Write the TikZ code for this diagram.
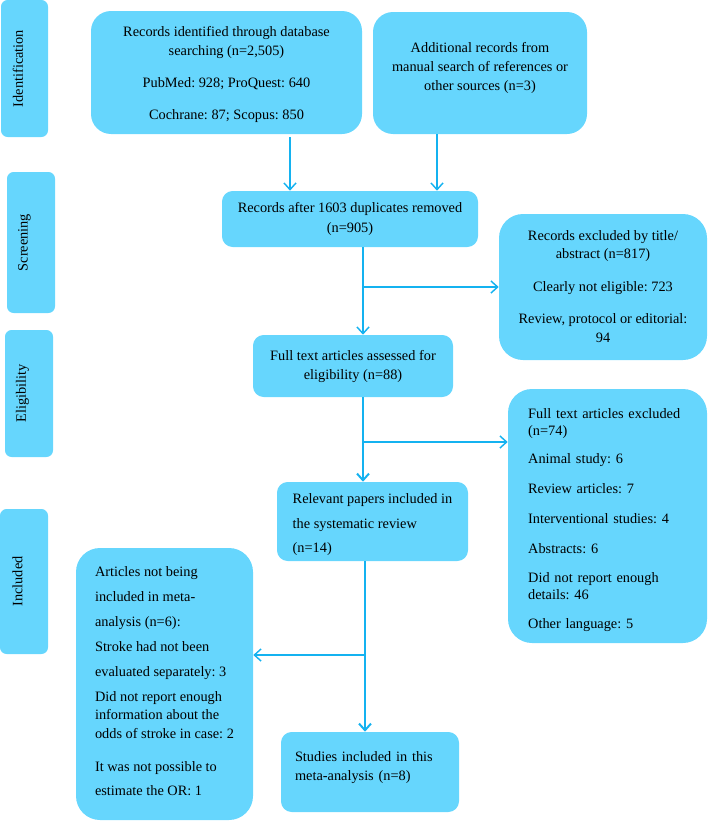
\documentclass[tikz,border=0pt]{standalone}
\usepackage{fontspec}
\setmainfont{Liberation Serif}
\frenchspacing
\usetikzlibrary{arrows.meta}
\definecolor{boxfill}{RGB}{102,214,253}
\definecolor{arrcol}{RGB}{20,178,240}
\begin{document}
\begin{tikzpicture}[x=0.75pt,y=-0.75pt,
  every node/.style={font=\fontsize{10.75}{14.25}\selectfont\frenchspacing, inner sep=0pt},
  box/.style={fill=boxfill, rounded corners=15pt, align=center},
  sbox/.style={fill=boxfill, rounded corners=8pt, align=center},
  lbox/.style={fill=boxfill, rounded corners=18pt, align=left},
  slbox/.style={fill=boxfill, rounded corners=8pt, align=left},
  side/.style={fill=boxfill, rounded corners=5pt, rotate=90, align=center},
  link/.style={draw=arrcol, line width=1.1pt},
  arr/.style={link, -{Straight Barb[length=5pt,width=9pt]}}]
\useasboundingbox (0,0) rectangle (708,821);

% phase labels
\node[side, minimum width=102.75pt, minimum height=35.25pt] (sid) at (24.5,68.5) {Identification\\[-4.25pt]\mbox{}};
\node[side, minimum width=105.75pt, minimum height=36pt] (ssc) at (31,242.5) {Screening\\[-2pt]\mbox{}};
\node[side, minimum width=95.25pt, minimum height=36pt] (sel) at (29,393.5) {Eligibility\\[-2pt]\mbox{}};
\node[side, minimum width=108.75pt, minimum height=36pt] (sin) at (24,581.5) {Included\\[-4.25pt]\mbox{}};

% boxes
\node[box, minimum width=203.25pt, minimum height=92.25pt] (A) at (226.5,72.5)
  {\mbox{}\\[-3.9pt]Records identified through database\\searching (n=2,505)\\[9.75pt]PubMed: 928; ProQuest: 640\\[9.75pt]Cochrane: 87; Scopus: 850};
\node[box, minimum width=160.5pt, minimum height=91.5pt] (B) at (480,73)
  {Additional records from\\manual search of references or\\other sources (n=3)\\[-5pt]\mbox{}};
\node[sbox, minimum width=192pt, minimum height=42pt] (C) at (350,219)
  {Records after 1603 duplicates removed\\[0.75pt](n=905)};
\node[box, rounded corners=18pt, minimum width=156pt, minimum height=109.5pt] (D) at (603,287)
  {Records excluded by title/\\[-0.75pt]abstract (n=817)\\[10.5pt]Clearly not eligible: 723\\[9.75pt]Review, protocol or editorial:\\94};
\node[sbox, minimum width=150pt, minimum height=46.5pt] (E) at (353,366)
  {Full text articles assessed for\\eligibility (n=88)};
\node[lbox, text width=119pt, minimum width=149.25pt, minimum height=190.5pt] (F) at (607.5,516)
  {\mbox{}\\[-0.9pt]Full text articles excluded\\[-1.5pt](n=74)\\[6.75pt]Animal study: 6\\[8.25pt]Review articles: 7\\[8.25pt]Interventional studies: 4\\[8.25pt]Abstracts: 6\\[7.5pt]Did not report enough\\[-1.5pt]details: 46\\[7.5pt]Other language: 5};
\node[slbox, minimum width=143.25pt, minimum height=59.25pt] (G) at (372.5,521.5)
  {\mbox{}\\[-1.65pt]Relevant papers included in\\[4.1pt]the systematic review\\[4.1pt](n=14)};
\node[lbox, minimum width=132.75pt, minimum height=204pt] (H) at (164.5,684)
  {Articles not being\\[4.5pt]included in meta-\\[4.5pt]analysis (n=6):\\[4.5pt]Stroke had not been\\[4.5pt]evaluated separately: 3\\[4.5pt]Did not report enough\\[-0.75pt]information about the\\odds of stroke in case: 2\\[10.5pt]It was not possible to\\[3.75pt]estimate the OR: 1\\[-9.85pt]\mbox{}};
\node[slbox, text width=112.5pt, minimum width=133.5pt, minimum height=60pt] (I) at (370,772)
  {Studies included in this\\meta-analysis (n=8)\\[-6pt]\mbox{}};

% connector guides
\coordinate (xa) at (290,0);
\coordinate (xb) at (437,0);
\coordinate (xc) at (363,0);
\coordinate (xg) at (365,0);
\coordinate (yf) at (0,442);
\coordinate (yh) at (0,655);

% connectors
\draw[arr] ([yshift=-2.25pt]A.south -| xa) -- (C.north -| xa);
\draw[arr] (B.south -| xb) -- (C.north -| xb);
\draw[arr] (C.south -| xc) -- (E.north -| xc);
\draw[arr] (xc |- D.west) -- (D.west);
\draw[arr, line width=1.5pt] (E.south -| xc) -- (G.north -| xc);
\draw[arr] (xc |- yf) -- (F.west |- yf);
\draw[arr, line width=1.5pt] (G.south -| xg) -- (I.north -| xg);
\draw[arr] (xg |- yh) -- (H.east |- yh);
\end{tikzpicture}
\end{document}
